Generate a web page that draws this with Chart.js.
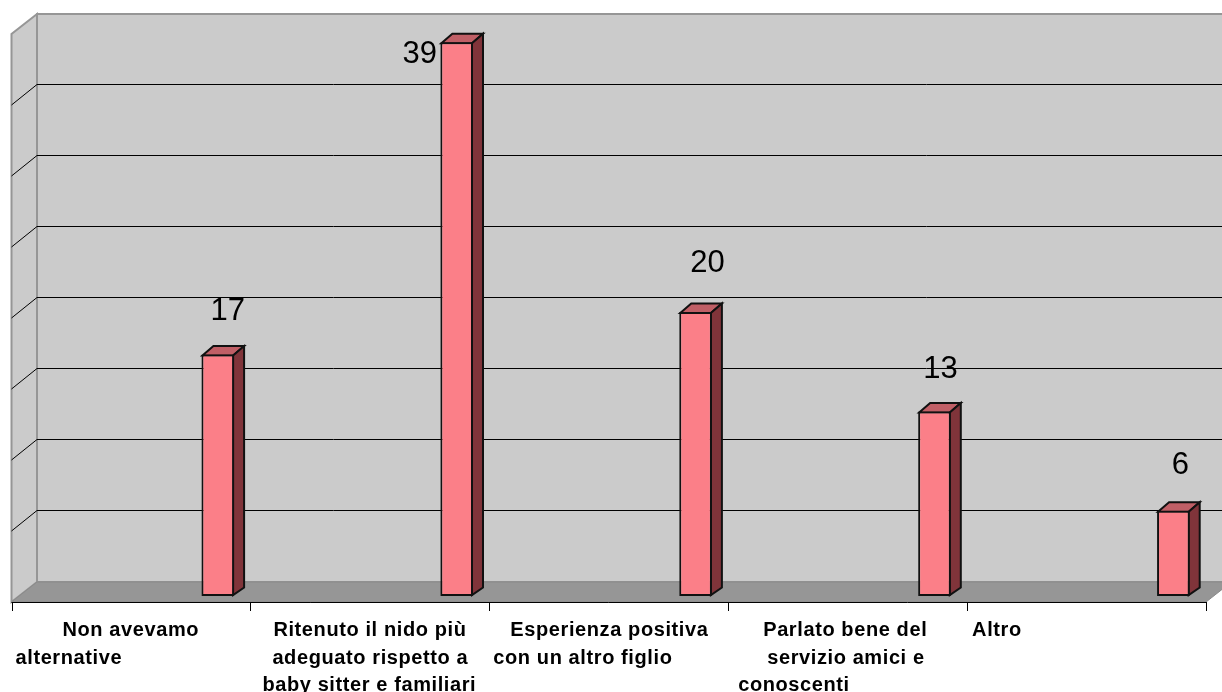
<!DOCTYPE html>
<html>
<head>
<meta charset="utf-8">
<title>Motivazioni</title>
<script src="https://cdn.jsdelivr.net/npm/chart.js@4/dist/chart.umd.min.js"></script>
<style>
  body { margin: 0; background: #fff; }
  canvas { display: block; }
</style>
</head>
<body>
<canvas id="chart" width="1222" height="692"></canvas>
<script>
// Dati
const categorie = [
  ['Non avevamo', 'alternative'],
  ['Ritenuto il nido più', 'adeguato rispetto a', 'baby sitter e familiari'],
  ['Esperienza positiva', 'con un altro figlio'],
  ['Parlato bene del', 'servizio amici e', 'conoscenti'],
  ['Altro']
]
const valori = [17, 39, 20, 13, 6]
const yMax = 40
const yStep = 5

// Nell'originale ci sono 5 serie vuote prima di quella disegnata
const serieVuote = 5

// Spostamenti fatti a mano: x di ogni riga rispetto alla tacca, etichette rispetto alla barra
const rigaX = [
  [51, 4],
  [23, 22, 12],
  [21, 4],
  [35, 39, 10],
  [5]
]
const numeroDx = [10, -37, 12, 6, 7]
const numeroDy = [-46, 10, -51, -44, -48]

// Profondità 3D rispetto al piano delle barre
const muro = { dx: 20.3, dy: -14 }
const fronte = { dx: -5.2, dy: 6 }
const barra = { dx: 11, dy: -8.5 }

function poligono(ctx, punti, fill, stroke, lw) {
  ctx.beginPath()
  punti.forEach((p, i) => i ? ctx.lineTo(p[0], p[1]) : ctx.moveTo(p[0], p[1]))
  ctx.closePath()
  if (fill) { ctx.fillStyle = fill; ctx.fill() }
  if (stroke) { ctx.strokeStyle = stroke; ctx.lineWidth = lw; ctx.stroke() }
}

const scena3d = {
  id: 'scena3d',
  beforeDatasetsDraw(chart) {
    const { ctx, chartArea: a, scales: { y } } = chart
    const base = y.getPixelForValue(0)
    const cima = y.getPixelForValue(yMax)
    const sx = a.left + fronte.dx, dx = a.right + fronte.dx
    const fy = base + fronte.dy
    const mx = a.left + muro.dx, mdx = a.right + muro.dx
    const my = base + muro.dy, mc = cima + muro.dy
    ctx.save()
    // muri e pavimento
    poligono(ctx, [[mx, mc], [mdx, mc], [mdx, my], [mx, my]], '#cbcbcb', '#969696', 2)
    poligono(ctx, [[sx, fy], [sx, cima + fronte.dy], [mx, mc], [mx, my]], '#cbcbcb', '#969696', 2)
    poligono(ctx, [[sx, fy], [mx, my], [mdx, my], [dx, fy]], '#969696', '#8a8a8a', 1)
    // griglia
    ctx.strokeStyle = '#000'
    ctx.lineWidth = 1
    y.ticks.forEach(t => {
      if (t.value === 0 || t.value === yMax) return
      const p = y.getPixelForValue(t.value)
      const py = Math.round(p + muro.dy) - 0.5
      ctx.beginPath()
      ctx.moveTo(sx, p + fronte.dy)
      ctx.lineTo(mx, py)
      ctx.lineTo(mdx, py)
      ctx.stroke()
    })
    // asse x e tacche
    ctx.beginPath()
    ctx.moveTo(sx, fy + 0.5)
    ctx.lineTo(dx, fy + 0.5)
    const passo = (a.right - a.left) / categorie.length
    for (let i = 0; i <= categorie.length; i++) {
      const tx = Math.round(sx + passo * i) + 0.5
      ctx.moveTo(tx, fy)
      ctx.lineTo(tx, fy + 9)
    }
    ctx.stroke()
    // facce laterali e superiori delle barre
    chart.getDatasetMeta(serieVuote).data.forEach(b => {
      const l = b.x - b.width / 2 + 1, r = b.x + b.width / 2 - 1
      poligono(ctx, [[l, b.y + 1], [l + barra.dx, b.y + barra.dy], [r + barra.dx, b.y + barra.dy], [r, b.y + 1]], '#c05f66', '#111', 2)
      poligono(ctx, [[r, b.y + 1], [r + barra.dx, b.y + barra.dy], [r + barra.dx, base + barra.dy], [r, base - 1]], '#80343a', '#111', 2)
    })
    ctx.restore()
  },
  afterDatasetsDraw(chart) {
    const { ctx, chartArea: a, scales: { y } } = chart
    const fy = y.getPixelForValue(0) + fronte.dy
    const passo = (a.right - a.left) / categorie.length
    ctx.save()
    ctx.fillStyle = '#000'
    ctx.textBaseline = 'alphabetic'
    // valori
    ctx.font = '31px "Liberation Sans"'
    ctx.textAlign = 'center'
    chart.getDatasetMeta(serieVuote).data.forEach((b, i) => {
      ctx.fillText(String(valori[i]), b.x + numeroDx[i], b.y + numeroDy[i] + 11)
    })
    // etichette categorie
    ctx.font = 'bold 20px "Liberation Sans"'
    ctx.textAlign = 'left'
    ctx.letterSpacing = '0.6px'
    categorie.forEach((righe, i) => {
      const sx = a.left + fronte.dx + passo * i
      righe.forEach((riga, j) => ctx.fillText(riga, sx + rigaX[i][j], fy + 34 + j * 27.5))
    })
    ctx.restore()
  }
}

const datasets = []
for (let i = 0; i < serieVuote; i++) datasets.push({ data: [] })
datasets.push({
  label: 'Serie',
  data: valori,
  backgroundColor: '#fb7f88',
  borderColor: '#111',
  borderWidth: 2,
  borderSkipped: false,
  barPercentage: 1,
  categoryPercentage: 0.82
})

new Chart(document.getElementById('chart'), {
  type: 'bar',
  data: { labels: categorie.map(r => r.join(' ')), datasets },
  options: {
    responsive: false,
    animation: false,
    layout: { padding: { left: 16.7, right: 10.8, top: 28, bottom: 96 } },
    plugins: { legend: { display: false }, tooltip: { enabled: false } },
    scales: {
      x: { display: false },
      y: { display: false, min: 0, max: yMax, ticks: { stepSize: yStep } }
    }
  },
  plugins: [scena3d]
})
</script>
</body>
</html>
